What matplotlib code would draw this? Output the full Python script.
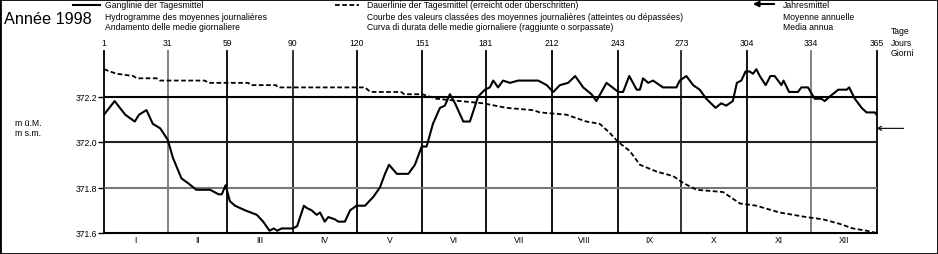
import numpy as np
import matplotlib.pyplot as plt
from matplotlib.patches import Rectangle
from matplotlib.lines import Line2D
from matplotlib.transforms import blended_transform_factory

plt.rcParams['font.family'] = ['Liberation Sans', 'DejaVu Sans']

# daily mean water level (m a.s.l.)
days_daily = [1, 6, 11, 15.5, 17.5, 21, 24, 27.5, 31, 33.5, 37.5, 40.5, 44.5, 51, 55, 56.5,
              58.3, 60.3, 62.7, 67.4, 73, 76, 79, 81, 82.6, 84.7, 90, 92, 95.2, 96.5, 98.8,
              101.2, 102.8, 105, 106.7, 109.8, 111.4, 114.5, 117, 120, 124, 128, 131, 133.4,
              135.3, 139, 144.4, 147.5, 150.7, 153, 156, 159.3, 161.6, 164, 166.4, 170.3,
              173.4, 177.3, 180.5, 182.8, 184.4, 186.7, 189, 192.3, 196.2, 199.3, 205.6,
              209.6, 212.7, 215.8, 219.7, 223, 226.8, 230.7, 233, 237.8, 243.3, 245.6, 248.5,
              252, 253.5, 255, 257.4, 259.7, 264.4, 270.7, 272.3, 275.4, 278.6, 281.7, 284.8,
              289.2, 291.8, 294.2, 297.3, 299.2, 301.3, 303.3, 305.2, 306.8, 308.4, 310,
              312.8, 315, 317, 320.2, 321.2, 323.8, 328, 329.6, 332.7, 335.9, 339, 340.6,
              343, 347, 351, 352.1, 354.8, 358, 360.3, 364.2, 365]
level_daily = [372.12, 372.18, 372.12, 372.09, 372.12, 372.14, 372.08, 372.06, 372.01, 371.93,
               371.84, 371.82, 371.79, 371.79, 371.77, 371.77, 371.81, 371.74, 371.72, 371.70,
               371.68, 371.65, 371.61, 371.62, 371.61, 371.62, 371.62, 371.63, 371.72, 371.71,
               371.70, 371.68, 371.69, 371.65, 371.67, 371.66, 371.65, 371.65, 371.70, 371.72,
               371.72, 371.76, 371.80, 371.86, 371.90, 371.86, 371.86, 371.90, 371.98, 371.98,
               372.08, 372.15, 372.16, 372.21, 372.17, 372.09, 372.09, 372.20, 372.23, 372.24,
               372.27, 372.24, 372.27, 372.26, 372.27, 372.27, 372.27, 372.25, 372.22, 372.25,
               372.26, 372.29, 372.24, 372.21, 372.18, 372.26, 372.22, 372.22, 372.29, 372.23,
               372.23, 372.28, 372.26, 372.27, 372.24, 372.24, 372.27, 372.29, 372.25, 372.23,
               372.19, 372.15, 372.17, 372.16, 372.18, 372.26, 372.27, 372.31, 372.31, 372.30,
               372.32, 372.29, 372.25, 372.29, 372.29, 372.25, 372.27, 372.22, 372.22, 372.24,
               372.24, 372.19, 372.19, 372.18, 372.20, 372.23, 372.23, 372.24, 372.19, 372.15,
               372.13, 372.13, 372.12]

# duration curve (levels reached or exceeded)
days_duration = [1, 3.8, 7, 14.8, 16.4, 25.8, 27.4, 48.6, 50.1, 69, 70, 82, 83, 124, 126.5,
                 141, 142.5, 151, 157.7, 168.7, 179.7, 190.7, 203.2, 206.4, 218.9, 228.3,
                 234.6, 239.3, 243.3, 248.8, 253.5, 261.4, 269.2, 273.9, 280.2, 292.7, 300.6,
                 308.4, 319.4, 331.9, 339.8, 347.7, 353.9, 360.3, 365]
level_duration = [372.32, 372.31, 372.30, 372.29, 372.28, 372.28, 372.27, 372.27, 372.26,
                  372.26, 372.25, 372.25, 372.24, 372.24, 372.22, 372.22, 372.21, 372.21,
                  372.19, 372.18, 372.17, 372.15, 372.14, 372.13, 372.12, 372.09, 372.08,
                  372.04, 372.00, 371.96, 371.90, 371.87, 371.85, 371.82, 371.79, 371.78,
                  371.73, 371.72, 371.69, 371.67, 371.66, 371.64, 371.62, 371.61, 371.60]

annual_mean = 372.06
month_starts = [1, 31, 59, 90, 120, 151, 181, 212, 243, 273, 304, 334, 365]
month_names = ['I', 'II', 'III', 'IV', 'V', 'VI', 'VII', 'VIII', 'IX', 'X', 'XI', 'XII']
y_ticks = [371.6, 371.8, 372.0, 372.2]

W, H = 938, 255
fs = 6.2


def fx(px):
    return px / W


def fy(py):
    return 1 - py / H


fig = plt.figure(figsize=(W / 100, H / 100), dpi=100)
ax = fig.add_axes([fx(104), fy(234), fx(876.5) - fx(104), (234 - 52) / H])
ax.set_xlim(1, 365)
ax.set_ylim(371.6, 372.4)
for s in ['top', 'right', 'left']:
    ax.spines[s].set_visible(False)
ax.spines['bottom'].set_linewidth(1.5)
ax.set_xticks([])
ax.set_yticks(y_ticks)
ax.set_yticklabels(['%.1f' % v for v in y_ticks], fontsize=fs)
ax.tick_params(axis='y', length=4, width=1, pad=1)

# grid
vcolors = ['black', '#777777', 'black', '#222222', 'black', 'black', 'black', 'black',
           'black', '#222222', 'black', '#777777', 'black']
for d, c in zip(month_starts, vcolors):
    ax.axvline(d, color=c, lw=1.3, zorder=1, clip_on=False)
hcolors = {372.2: 'black', 372.0: '#222222', 371.8: '#777777'}
for v, c in hcolors.items():
    ax.axhline(v, color=c, lw=1.5, zorder=1)

ax.plot(days_daily, level_daily, color='black', lw=1.5, zorder=3)
ax.plot(days_duration, level_duration, color='black', lw=1.3, dashes=(2.6, 1.4), zorder=2)

# annual mean arrow
ax.annotate('', xy=(365, annual_mean), xycoords='data',
            xytext=(27, 0), textcoords='offset pixels',
            arrowprops=dict(arrowstyle='->', color='black', lw=0.8,
                            shrinkA=0, shrinkB=0, mutation_scale=7),
            annotation_clip=False)

# day labels on top, month labels at bottom
tr = blended_transform_factory(ax.transData, fig.transFigure)
for d in month_starts:
    ax.text(d, fy(43), str(d), transform=tr, ha='center', va='center', fontsize=fs)
for i, m in enumerate(month_names):
    mid = (month_starts[i] + month_starts[i + 1]) / 2
    ax.text(mid, fy(241), m, transform=tr, ha='center', va='center', fontsize=fs)

fig.text(fx(891), fy(32), 'Tage', fontsize=fs, va='center')
fig.text(fx(891), fy(43), 'Jours', fontsize=fs, va='center')
fig.text(fx(891), fy(53), 'Giorni', fontsize=fs, va='center')

fig.text(fx(15), fy(124), 'm ü.M.', fontsize=fs, va='center')
fig.text(fx(15), fy(134), 'm s.m.', fontsize=fs, va='center')

fig.text(fx(4), fy(20), 'Année 1998', fontsize=11.7, va='center')

# legend
leg_rows = [6, 17, 28]
fig.add_artist(Line2D([fx(73), fx(100)], [fy(6), fy(6)], color='black', lw=1.5))
for y, t in zip(leg_rows, ['Ganglinie der Tagesmittel',
                           'Hydrogramme des moyennes journalières',
                           'Andamento delle medie giornaliere']):
    fig.text(fx(105), fy(y), t, fontsize=fs, va='center')

fig.add_artist(Line2D([fx(335), fx(359)], [fy(6), fy(6)], color='black', lw=1.3,
                      dashes=(2.6, 1.4)))
for y, t in zip(leg_rows, ['Dauerlinie der Tagesmittel (erreicht oder überschritten)',
                           'Courbe des valeurs classées des moyennes journalières (atteintes ou dépassées)',
                           'Curva di durata delle medie giornaliere (raggiunte o sorpassate)']):
    fig.text(fx(367), fy(y), t, fontsize=fs, va='center')

fig.add_artist(plt.matplotlib.patches.FancyArrowPatch(
    (fx(777), fy(5)), (fx(750), fy(5)), transform=fig.transFigure,
    arrowstyle='-|>', mutation_scale=8, lw=1.5, color='black'))
for y, t in zip(leg_rows, ['Jahresmittel', 'Moyenne annuelle', 'Media annua']):
    fig.text(fx(783), fy(y), t, fontsize=fs, va='center')

fig.add_artist(Rectangle((0, 0), 1, 1, transform=fig.transFigure, fill=False,
                         ec='black', lw=2))

fig.savefig('out.png', dpi=100)
